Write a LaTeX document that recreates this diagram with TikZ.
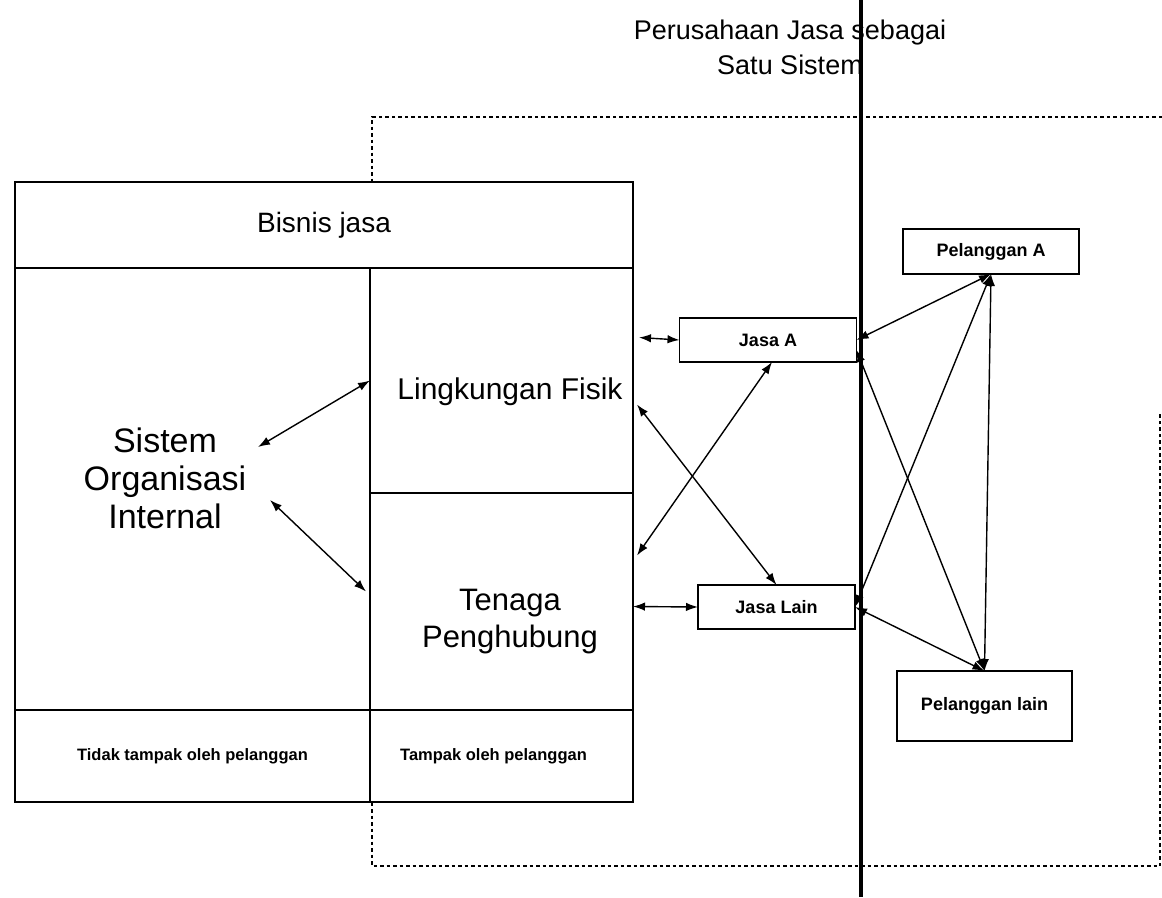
\documentclass[tikz,border=0pt]{standalone}
\usepackage{fontspec}
\setmainfont{Liberation Sans}
\usetikzlibrary{arrows.meta,calc}

\tikzset{
  cell/.style={draw, line width=1.4pt, inner sep=0pt, outer sep=0pt},
  smallbox/.style={draw, line width=1.3pt, inner sep=0pt, outer sep=0pt,
    font=\bfseries\fontsize{18}{21}\selectfont},
  link/.style={line width=1.4pt, {Latex[length=12pt,width=8.5pt]}-{Latex[length=12pt,width=8.5pt]}},
  boundary/.style={line width=1.3pt, dash pattern=on 3.5pt off 3pt},
}

\begin{document}
\begin{tikzpicture}[x=1pt,y=-1pt]
\useasboundingbox (0,0) rectangle (1162,897);

% system boundary (dotted frame)
\draw[boundary] (1162,117) -- (372,117) -- (372,866) -- (1160,866) -- (1160,413);

% title
\node[align=center, font=\fontsize{27}{35}\selectfont] (title) at (790,47)
  {Perusahaan Jasa sebagai\\Satu Sistem};

% service business block
\node[cell, fill=white, minimum width=618pt, minimum height=86pt,
      font=\fontsize{28}{34}\selectfont] (bj) at (324,225) {Bisnis jasa};
\node[cell, fill=white, minimum width=355pt, minimum height=442pt] (soi) at (192.5,489) {};
\node[cell, fill=white, minimum width=263pt, minimum height=225pt] (lf) at (501.5,380.5) {};
\node[cell, fill=white, minimum width=263pt, minimum height=217pt] (tp) at (501.5,601.5) {};
\node[cell, fill=white, minimum width=355pt, minimum height=92pt,
      font=\bfseries\fontsize{16.5}{20}\selectfont] (tl) at (192.5,756) {Tidak tampak oleh pelanggan};
\node[cell, fill=white, minimum width=263pt, minimum height=92pt,
      font=\bfseries\fontsize{16.5}{20}\selectfont] (tk) at (501.5,756) {\hspace*{-16pt}Tampak oleh pelanggan};

% cell texts
\node[align=center, font=\fontsize{34}{38}\selectfont] (sys) at (165,478)
  {Sistem\\Organisasi\\Internal};
\node[font=\fontsize{30}{36}\selectfont] (lft) at (510,392) {Lingkungan Fisik};
\node[align=center, font=\fontsize{31}{37}\selectfont] (tpt) at (510,622) {Tenaga\\Penghubung};

% dividing line between company and customers
\draw[line width=3.5pt] (861,0) -- (861,897);

% services and customers
\node[smallbox, minimum width=177pt, minimum height=44pt] (ja) at (768,340) {Jasa A};
\node[smallbox, minimum width=157pt, minimum height=44pt] (jl) at (776.5,607) {Jasa Lain};
\node[smallbox, minimum width=176pt, minimum height=45pt] (pa) at (991,251.5) {Pelanggan A};
\node[smallbox, minimum width=175pt, minimum height=70pt] (pl) at (984.5,706) {Pelanggan lain};

% attachment points
\coordinate (sa) at (258,447);
\coordinate (sb) at (270,500);
\coordinate (lfA) at ($(lf.east)+(6,-43)$);
\coordinate (lfB) at ($(lf.east)+(4,24)$);
\coordinate (tpA) at ($(tp.east)+(4,-46)$);
\coordinate (tpB) at ($(tp.east)+(0,5)$);
\coordinate (jaS) at ($(ja.south)+(4,0)$);
\coordinate (jaE) at ($(ja.east)+(0,10)$);

% connectors
\draw[link] (sa) -- (lf.west);
\draw[link] (sb) -- ($(tp.west)+(-4,-10)$);
\draw[link] (lfA) -- (ja.west);
\draw[link] (tpB) -- (jl.west);
\draw[link] (lfB) -- (jl.north);
\draw[link] (tpA) -- (jaS);
\draw[link] (ja.east) -- (pa.south);
\draw[link] (jaE) -- (pl.north);
\draw[link] (jl.east) -- (pa.south);
\draw[link] (jl.east) -- (pl.north);
\draw[link] (pa.south) -- (pl.north);
\end{tikzpicture}
\end{document}
